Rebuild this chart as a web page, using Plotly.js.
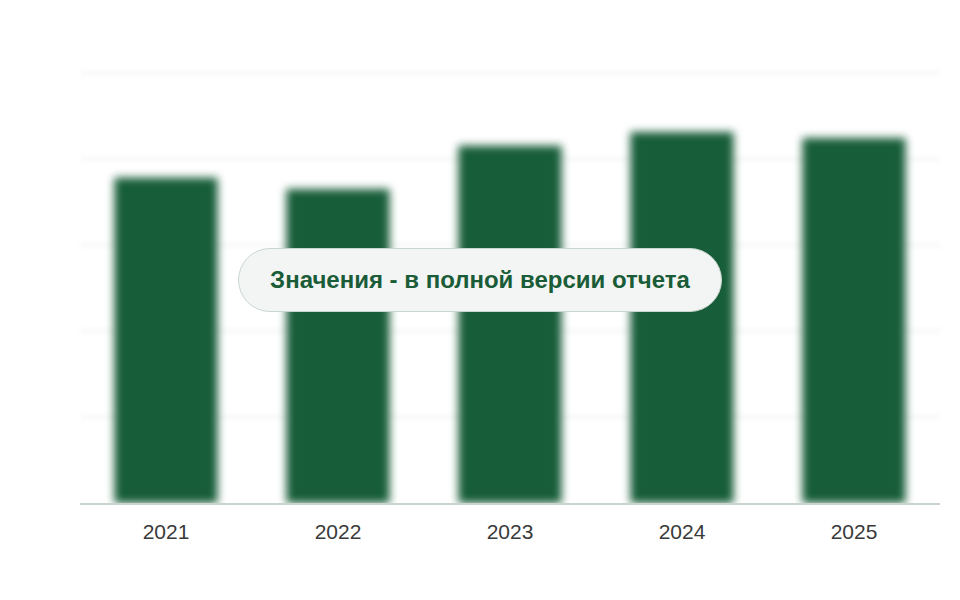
<!DOCTYPE html>
<html>
<head>
<meta charset="utf-8">
<script src="https://cdn.plot.ly/plotly-3.0.1.min.js"></script>
<style>
    html, body { margin: 0; padding: 0; background: #fff; }
    #wrap { position: relative; width: 960px; height: 600px; }
    #chart { width: 960px; height: 600px; }
    /* blurred bars and grid, as in the teaser picture */
    #chart .barlayer { filter: blur(4px); }
    #chart .gridlayer { filter: blur(2.5px); }
    #note {
        position: absolute; left: 238px; top: 248px; width: 484px; height: 64px;
        box-sizing: border-box; border: 1.5px solid #c9d6cd; border-radius: 32px;
        background: #f2f5f3; color: #1a5c38;
        font: bold 24px 'Liberation Sans', Arial, sans-serif;
        display: flex; align-items: center; justify-content: center;
    }
</style>
</head>
<body>
<div id="wrap">
    <div id="chart"></div>
    <div id="note">Значения - в полной версии отчета</div>
</div>
<script>
const years = ['2021', '2022', '2023', '2024', '2025'];
const values = [3.78, 3.65, 4.15, 4.31, 4.24];

const traces = [{
    type: 'bar', x: years, y: values,
    marker: { color: '#175d39' },
    hoverinfo: 'skip'
}];

const layout = {
    width: 960, height: 600,
    paper_bgcolor: '#fff', plot_bgcolor: '#fff',
    font: { family: 'Liberation Sans, Arial, sans-serif', color: '#333', size: 21 },
    margin: { t: 71, b: 97, l: 80, r: 20 },
    showlegend: false,
    bargap: 0.4,
    xaxis: {
        showgrid: false, fixedrange: true,
        showline: true, linecolor: '#c8d4cc', linewidth: 2,
        ticks: '', ticklabelstandoff: 9,
        tickfont: { color: '#3a3a3a', size: 21 }
    },
    yaxis: {
        range: [0, 5.02], dtick: 1, fixedrange: true,
        gridcolor: '#f7f7f7', gridwidth: 4,
        showticklabels: false, zeroline: false
    }
};

Plotly.newPlot('chart', traces, layout, { displayModeBar: false, staticPlot: true });
</script>
</body>
</html>
